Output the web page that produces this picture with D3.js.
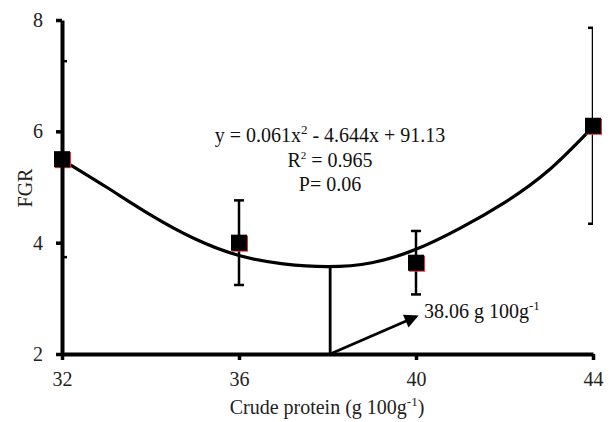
<!DOCTYPE html>
<html>
<head>
<meta charset="utf-8">
<script src="https://cdn.jsdelivr.net/npm/d3@7"></script>
<style>
  body { margin: 0; background: #fff; }
  svg { display: block; font-family: "Liberation Serif", "Times New Roman", serif; }
</style>
</head>
<body>
<svg id="chart" width="612" height="422"></svg>
<script>
// FGR against dietary crude protein
const proteinLevels = [32, 36, 40, 44];
const fgrMeans = [5.5, 4.0, 3.64, 6.1];
const fgrErrors = [1.76, 0.76, 0.57, 1.76];

// fitted curve
const fitProtein = [32, 33, 34, 35, 36, 37, 38, 39, 40, 41, 42, 43, 44];
const fitFgr = [5.49, 5.0, 4.5, 4.07, 3.77, 3.62, 3.57, 3.64, 3.88, 4.26, 4.72, 5.3, 6.08];

const optimumProtein = 38.06;
const optimumFgr = 3.57;
const arrowEnd = [40.0, 2.67];

const xTicks = [32, 36, 40, 44];
const yTicks = [2, 4, 6, 8];

const margin = { top: 20, right: 19, bottom: 68, left: 62 };
const width = 612, height = 422;

const svg = d3.select("#chart");

const x = d3.scaleLinear().domain([32, 44]).range([margin.left, width - margin.right]);
const y = d3.scaleLinear().domain([2, 8]).range([height - margin.bottom, margin.top]);

const defs = svg.append("defs");
defs.append("clipPath").attr("id", "plotclip")
  .append("rect")
  .attr("x", x(32)).attr("y", 0)
  .attr("width", x(44) - x(32)).attr("height", height);

defs.append("marker")
  .attr("id", "arrow")
  .attr("viewBox", "0 0 10 10")
  .attr("refX", 8).attr("refY", 5)
  .attr("markerWidth", 5.5).attr("markerHeight", 5)
  .attr("orient", "auto")
  .append("path").attr("d", "M0,0 L10,5 L0,10 z").attr("fill", "#000");

// error bars (clipped at the plot edges like the original)
const bars = svg.append("g").attr("clip-path", "url(#plotclip)")
  .attr("stroke", "#000").attr("stroke-width", 2.5);

proteinLevels.forEach((p, i) => {
  const lo = y(fgrMeans[i] - fgrErrors[i]);
  const hi = y(fgrMeans[i] + fgrErrors[i]);
  bars.append("line").attr("x1", x(p)).attr("x2", x(p)).attr("y1", lo).attr("y2", hi);
  bars.append("line").attr("x1", x(p) - 5).attr("x2", x(p) + 5).attr("y1", lo).attr("y2", lo);
  bars.append("line").attr("x1", x(p) - 5).attr("x2", x(p) + 5).attr("y1", hi).attr("y2", hi);
});

// fitted curve
const line = d3.line()
  .x((d, i) => x(fitProtein[i]))
  .y(d => y(d))
  .curve(d3.curveNatural);

svg.append("path")
  .datum(fitFgr)
  .attr("d", line)
  .attr("fill", "none")
  .attr("stroke", "#000")
  .attr("stroke-width", 3.2);

// optimum marker line + arrow
svg.append("line")
  .attr("x1", x(optimumProtein)).attr("x2", x(optimumProtein))
  .attr("y1", y(2)).attr("y2", y(optimumFgr))
  .attr("stroke", "#000").attr("stroke-width", 2.8);

svg.append("line")
  .attr("x1", x(optimumProtein)).attr("y1", y(2))
  .attr("x2", x(arrowEnd[0])).attr("y2", y(arrowEnd[1]))
  .attr("stroke", "#000").attr("stroke-width", 2.8)
  .attr("marker-end", "url(#arrow)");

const optLabel = svg.append("text")
  .attr("x", x(arrowEnd[0]) + 8).attr("y", y(arrowEnd[1]) + 1)
  .attr("font-size", 20).attr("fill", "#111");
optLabel.append("tspan").text(optimumProtein.toFixed(2) + " g 100g");
optLabel.append("tspan").attr("font-size", 13).attr("dy", -8).text("-1");

// markers
const pts = svg.append("g");
proteinLevels.forEach((p, i) => {
  pts.append("rect")
    .attr("x", x(p) - 7).attr("y", y(fgrMeans[i]) - 7)
    .attr("width", 16).attr("height", 16).attr("fill", "#d33");
  pts.append("rect")
    .attr("x", x(p) - 8).attr("y", y(fgrMeans[i]) - 8)
    .attr("width", 16).attr("height", 16).attr("fill", "#000");
});

// axes
const xAxis = svg.append("g")
  .attr("transform", `translate(0,${y(2)})`)
  .call(d3.axisBottom(x).tickValues(xTicks).tickFormat(d3.format("d"))
    .tickSize(6).tickSizeOuter(0).tickPadding(12));

const yAxis = svg.append("g")
  .attr("transform", `translate(${x(32)},0)`)
  .call(d3.axisLeft(y).tickValues(yTicks).tickFormat(d3.format("d"))
    .tickSize(6).tickSizeOuter(0).tickPadding(13));

[xAxis, yAxis].forEach(a => {
  a.select(".domain").attr("stroke-width", 4);
  a.selectAll(".tick line").attr("stroke-width", 3.5);
  a.selectAll(".tick text")
    .attr("font-family", "Liberation Serif, Times New Roman, serif")
    .attr("font-size", 20).attr("fill", "#222");
});

// equation block
const eq = svg.append("g").attr("font-size", 20).attr("text-anchor", "middle").attr("fill", "#111");
const l1 = eq.append("text").attr("x", 330).attr("y", 142);
l1.append("tspan").text("y = 0.061x");
l1.append("tspan").attr("font-size", 13).attr("dy", -8).text("2");
l1.append("tspan").attr("dy", 8).text(" - 4.644x + 91.13");

const l2 = eq.append("text").attr("x", 330).attr("y", 167);
l2.append("tspan").text("R");
l2.append("tspan").attr("font-size", 11).attr("dy", -8).text("2");
l2.append("tspan").attr("dy", 8).text(" = 0.965");

eq.append("text").attr("x", 330).attr("y", 191).text("P= 0.06");

// axis titles
svg.append("text")
  .attr("transform", "translate(32,188) rotate(-90)")
  .attr("text-anchor", "middle").attr("font-size", 20).attr("fill", "#222")
  .text("FGR");

const xt = svg.append("text")
  .attr("x", 327).attr("y", 414)
  .attr("text-anchor", "middle").attr("font-size", 20).attr("fill", "#222");
xt.append("tspan").text("Crude protein (g 100g");
xt.append("tspan").attr("font-size", 13).attr("dy", -8).text("-1");
xt.append("tspan").attr("dy", 8).text(")");
</script>
</body>
</html>
